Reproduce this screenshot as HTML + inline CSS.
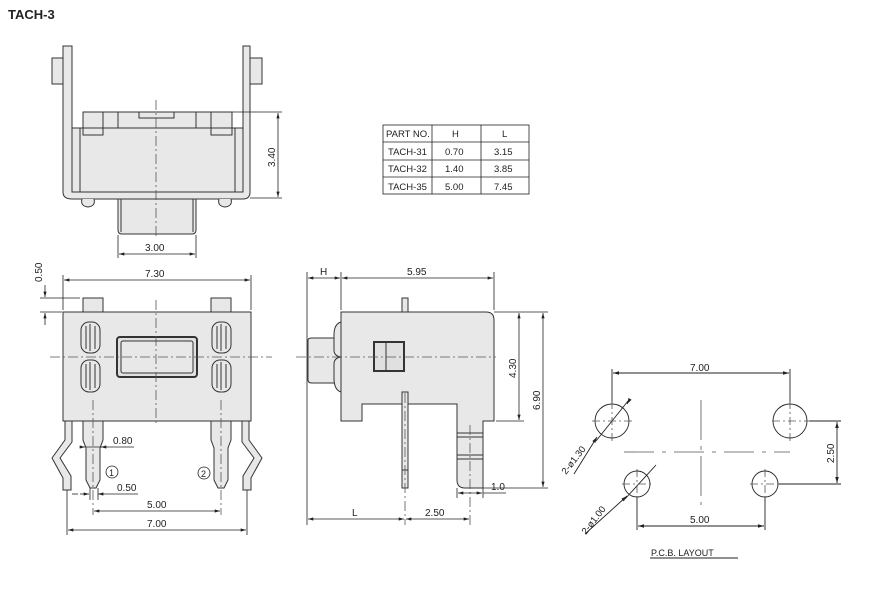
<!DOCTYPE html>
<html><head><style>
body{margin:0;background:#fff}
svg{display:block}
text{font-family:"Liberation Sans",sans-serif;fill:#222}
</style></head><body>
<svg width="870" height="604" viewBox="0 0 870 604" xmlns="http://www.w3.org/2000/svg">
<defs>
<marker id="a" viewBox="0 0 10 6" refX="10" refY="3" markerWidth="7" markerHeight="4" orient="auto-start-reverse"><path d="M0,0L10,3L0,6z" fill="#222"/></marker>
</defs>
<text x="8" y="19" font-size="13" font-weight="bold">TACH-3</text>

<g stroke="#333" stroke-width="1" fill="#e8e8e8">
<!-- TOP VIEW -->
<rect x="52" y="58" width="11" height="26"/>
<rect x="250" y="58" width="12" height="26"/>
<path d="M63,46H72V190Q72,192 76,192H239Q243,192 243,190V46H250V192Q250,199 243,199H72Q63,199 63,192Z"/>
<rect x="83" y="112" width="149" height="16"/>
<path d="M139,112V118H174V112" fill="none"/>
<line x1="103" y1="112" x2="103" y2="128"/><line x1="118" y1="112" x2="118" y2="128"/>
<line x1="196" y1="112" x2="196" y2="128"/><line x1="211" y1="112" x2="211" y2="128"/>
<rect x="72" y="128" width="171" height="64"/>
<line x1="80" y1="128" x2="80" y2="192"/><line x1="235" y1="128" x2="235" y2="192"/>
<rect x="83" y="128" width="20" height="7"/><rect x="211" y="128" width="21" height="7"/>
<path d="M118,199V230Q118,234 122,234H192Q196,234 196,230V199Z"/>
<line x1="121" y1="199" x2="121" y2="232"/><line x1="193" y1="199" x2="193" y2="232"/>
<path d="M82,199Q80,206 88,207Q96,206 94,199" /><path d="M219,199Q217,206 225,207Q233,206 231,199"/>
</g>
<g stroke="#555" stroke-width="0.8" fill="none" stroke-dasharray="10,3,2,3">
<line x1="156" y1="100" x2="156" y2="236"/>
</g>
<g stroke="#222" stroke-width="0.8" fill="none">
<line x1="232" y1="112" x2="282" y2="112"/><line x1="250" y1="198" x2="282" y2="198"/>
<line x1="278" y1="113" x2="278" y2="197" marker-start="url(#a)" marker-end="url(#a)"/>
<line x1="118" y1="235" x2="118" y2="258"/><line x1="196" y1="235" x2="196" y2="258"/>
<line x1="119" y1="254" x2="195" y2="254" marker-start="url(#a)" marker-end="url(#a)"/>
</g>
<text x="145" y="251" font-size="10">3.00</text>
<text x="0" y="0" font-size="10" transform="translate(275,167) rotate(-90)">3.40</text>

<!-- TABLE -->
<g stroke="#222" stroke-width="0.8" fill="none">
<rect x="383" y="125" width="146" height="69"/>
<line x1="383" y1="142" x2="529" y2="142"/><line x1="383" y1="160" x2="529" y2="160"/><line x1="383" y1="177" x2="529" y2="177"/>
<line x1="432" y1="125" x2="432" y2="194"/><line x1="481" y1="125" x2="481" y2="194"/>
</g>
<g font-size="9.5">
<text x="386" y="137">PART NO.</text><text x="452" y="137">H</text><text x="502" y="137">L</text>
<text x="388" y="155">TACH-31</text><text x="445" y="155">0.70</text><text x="494" y="155">3.15</text>
<text x="388" y="172">TACH-32</text><text x="445" y="172">1.40</text><text x="494" y="172">3.85</text>
<text x="388" y="190">TACH-35</text><text x="445" y="190">5.00</text><text x="494" y="190">7.45</text>
</g>

<!-- FRONT VIEW -->
<g stroke="#333" stroke-width="1" fill="#e8e8e8">
<rect x="83" y="298" width="20" height="14"/><rect x="211" y="298" width="20" height="14"/>
<rect x="63" y="312" width="188" height="109"/>
<rect x="117" y="337" width="80" height="40" rx="3" stroke-width="2" fill="#e0e0e0"/>
<rect x="121" y="341" width="72" height="32" rx="2"/>
<rect x="81" y="322" width="19" height="31" rx="8"/><rect x="81" y="360" width="19" height="32" rx="8"/>
<rect x="212" y="322" width="19" height="31" rx="8"/><rect x="212" y="360" width="19" height="32" rx="8"/>
<path d="M86,326V349M90,324V351M95,326V349M86,364V388M90,362V390M95,364V388M217,326V349M221,324V351M226,326V349M217,364V388M221,362V390M226,364V388" fill="none"/>
<path d="M83,421V440L86,448V480L90,488H96L100,480V448L103,440V421Z"/>
<path d="M211,421V440L214,448V480L218,488H224L228,480V448L231,440V421Z"/>
<path d="M65,421V440L52,458L63,478V490H71V476L60,458L72,442V421Z"/>
<path d="M249,421V440L262,458L251,478V490H243V476L254,458L242,442V421Z"/>
</g>
<g stroke="#555" stroke-width="0.8" fill="none" stroke-dasharray="10,3,2,3">
<line x1="50" y1="357" x2="272" y2="357"/><line x1="156" y1="300" x2="156" y2="426"/>
<line x1="93" y1="400" x2="93" y2="515"/><line x1="221" y1="400" x2="221" y2="515"/>
</g>
<g stroke="#222" stroke-width="0.8" fill="none">
<line x1="63" y1="275" x2="63" y2="310"/><line x1="251" y1="275" x2="251" y2="310"/>
<line x1="64" y1="280" x2="250" y2="280" marker-start="url(#a)" marker-end="url(#a)"/>
<line x1="40" y1="298" x2="80" y2="298"/><line x1="40" y1="312" x2="62" y2="312"/>
<line x1="45" y1="285" x2="45" y2="297" marker-end="url(#a)"/><line x1="45" y1="325" x2="45" y2="313" marker-end="url(#a)"/>
<line x1="86" y1="447" x2="134" y2="447"/>
<line x1="80" y1="447" x2="85" y2="447" marker-end="url(#a)"/><line x1="106" y1="447" x2="101" y2="447" marker-end="url(#a)"/>
<line x1="72" y1="494" x2="78" y2="494"/><line x1="80" y1="494" x2="89" y2="494" marker-end="url(#a)"/><line x1="104" y1="494" x2="98" y2="494" marker-end="url(#a)"/><line x1="98" y1="494" x2="138" y2="494"/>
<line x1="90" y1="488" x2="90" y2="500"/><line x1="98" y1="488" x2="98" y2="500"/>
<line x1="94" y1="511" x2="220" y2="511" marker-start="url(#a)" marker-end="url(#a)"/>
<line x1="67" y1="490" x2="67" y2="535"/><line x1="247" y1="490" x2="247" y2="535"/>
<line x1="68" y1="530" x2="246" y2="530" marker-start="url(#a)" marker-end="url(#a)"/>
<circle cx="112" cy="472" r="6"/><circle cx="204" cy="473" r="6"/>
</g>
<text x="145" y="277" font-size="10">7.30</text>
<text x="0" y="0" font-size="10" transform="translate(42,282) rotate(-90)">0.50</text>
<text x="113" y="444" font-size="10">0.80</text>
<text x="117" y="491" font-size="10">0.50</text>
<text x="147" y="508" font-size="10">5.00</text>
<text x="147" y="527" font-size="10">7.00</text>
<text x="109" y="476" font-size="9">1</text><text x="201" y="477" font-size="9">2</text>

<!-- SIDE VIEW -->
<g stroke="#333" stroke-width="1" fill="#e8e8e8">
<rect x="402" y="298" width="6" height="14"/>
<path d="M308,340Q308,338 312,338H338V383H312Q308,383 308,380Z"/>
<path d="M341,322Q334,324 334,335V350Q334,356 341,357Q334,358 334,364V378Q334,390 341,392"/>
<path d="M341,312H486Q494,312 494,320V421H483V488H465Q457,488 457,480V404H362V421H341Z"/>
<rect x="402" y="392" width="6" height="96"/>
<line x1="402" y1="470" x2="408" y2="470"/>
<line x1="457" y1="433" x2="483" y2="433"/><line x1="457" y1="437" x2="483" y2="437"/>
<line x1="457" y1="455" x2="483" y2="455"/><line x1="457" y1="459" x2="483" y2="459"/>
<rect x="374" y="342" width="30" height="29" stroke-width="2" fill="#e0e0e0"/>
<line x1="386" y1="342" x2="386" y2="371"/>
</g>
<g stroke="#555" stroke-width="0.8" fill="none" stroke-dasharray="10,3,2,3">
<line x1="296" y1="357" x2="496" y2="357"/>
<line x1="405" y1="393" x2="405" y2="525"/><line x1="470" y1="425" x2="470" y2="525"/>
</g>
<g stroke="#222" stroke-width="0.8" fill="none">
<line x1="307" y1="272" x2="307" y2="525"/><line x1="341" y1="272" x2="341" y2="310"/><line x1="494" y1="272" x2="494" y2="310"/>
<line x1="308" y1="278" x2="340" y2="278" marker-start="url(#a)" marker-end="url(#a)"/>
<line x1="342" y1="278" x2="493" y2="278" marker-start="url(#a)" marker-end="url(#a)"/>
<line x1="494" y1="312" x2="548" y2="312"/><line x1="496" y1="421" x2="524" y2="421"/><line x1="483" y1="488" x2="548" y2="488"/>
<line x1="519" y1="313" x2="519" y2="420" marker-start="url(#a)" marker-end="url(#a)"/>
<line x1="543" y1="313" x2="543" y2="487" marker-start="url(#a)" marker-end="url(#a)"/>
<line x1="457" y1="488" x2="457" y2="498"/><line x1="483" y1="488" x2="483" y2="498"/>
<line x1="458" y1="493" x2="482" y2="493" marker-start="url(#a)" marker-end="url(#a)"/><line x1="483" y1="493" x2="506" y2="493"/>
<line x1="308" y1="519" x2="404" y2="519" marker-start="url(#a)" marker-end="url(#a)"/>
<line x1="406" y1="519" x2="469" y2="519" marker-start="url(#a)" marker-end="url(#a)"/>
</g>
<text x="320" y="275" font-size="10">H</text>
<text x="407" y="275" font-size="10">5.95</text>
<text x="0" y="0" font-size="10" transform="translate(516,378) rotate(-90)">4.30</text>
<text x="0" y="0" font-size="10" transform="translate(540,410) rotate(-90)">6.90</text>
<text x="491" y="490" font-size="10">1.0</text>
<text x="352" y="516" font-size="10">L</text>
<text x="425" y="516" font-size="10">2.50</text>

<!-- PCB -->
<g stroke="#222" stroke-width="0.9" fill="none">
<circle cx="612" cy="421" r="17"/><circle cx="790" cy="421" r="17"/>
<circle cx="637" cy="484" r="13"/><circle cx="765" cy="484" r="13"/>
<line x1="612" y1="369" x2="612" y2="403"/><line x1="790" y1="369" x2="790" y2="403"/>
<line x1="613" y1="373" x2="789" y2="373" marker-start="url(#a)" marker-end="url(#a)"/>
<line x1="809" y1="421" x2="841" y2="421"/><line x1="779" y1="484" x2="841" y2="484"/>
<line x1="837" y1="422" x2="837" y2="483" marker-start="url(#a)" marker-end="url(#a)"/>
<line x1="637" y1="498" x2="637" y2="530"/><line x1="765" y1="498" x2="765" y2="530"/>
<line x1="638" y1="526" x2="764" y2="526" marker-start="url(#a)" marker-end="url(#a)"/>
<line x1="628" y1="401" x2="596" y2="441"/><line x1="574" y1="474" x2="597" y2="437" marker-end="url(#a)"/><line x1="630" y1="399" x2="627" y2="404" marker-end="url(#a)"/>
<line x1="656" y1="465" x2="625" y2="499"/><line x1="585" y1="534" x2="627" y2="496" marker-end="url(#a)"/>
<line x1="650" y1="558" x2="738" y2="558"/>
</g>
<g stroke="#555" stroke-width="0.8" fill="none" stroke-dasharray="8,3,2,3">
<line x1="592" y1="421" x2="632" y2="421"/><line x1="612" y1="401" x2="612" y2="441"/>
<line x1="772" y1="421" x2="810" y2="421"/><line x1="790" y1="401" x2="790" y2="441"/>
<line x1="622" y1="484" x2="652" y2="484"/><line x1="637" y1="469" x2="637" y2="499"/>
<line x1="750" y1="484" x2="780" y2="484"/><line x1="765" y1="469" x2="765" y2="499"/>
<line x1="624" y1="452" x2="790" y2="452" stroke-dasharray="30,8,4,8"/><line x1="701" y1="400" x2="701" y2="505" stroke-dasharray="40,6,4,6"/>
</g>
<text x="690" y="371" font-size="10">7.00</text>
<text x="0" y="0" font-size="10" transform="translate(834,463) rotate(-90)">2.50</text>
<text x="690" y="523" font-size="10">5.00</text>
<text x="0" y="0" font-size="9.5" transform="translate(566,475) rotate(-52)">2-ø1.30</text>
<text x="0" y="0" font-size="9.5" transform="translate(586,535) rotate(-52)">2-ø1.00</text>
<text x="651" y="556" font-size="9">P.C.B.  LAYOUT</text>
</svg>
</body></html>
